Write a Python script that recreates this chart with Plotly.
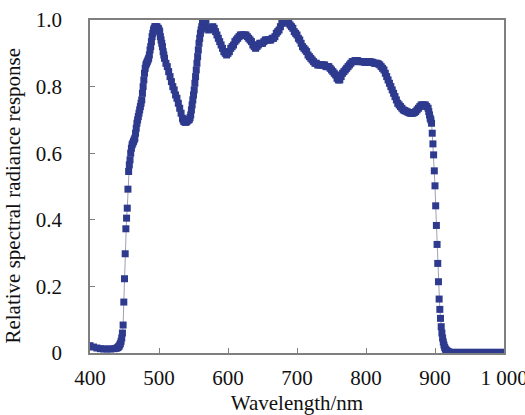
import plotly.graph_objects as go

# Relative spectral radiance response of the sensor, sampled densely on the band edges
wavelength_nm = [
    400, 405, 410, 415, 420, 425, 430, 435, 438, 440,
    441, 442, 443, 444, 445, 446, 447, 448, 449, 450,
    451, 452, 453, 454, 455, 456, 457, 458, 459, 460,
    461, 462, 463, 464, 465, 466, 467, 468, 469, 470,
    471, 472, 473, 474, 475, 476, 477, 478, 479, 480,
    481, 482, 483, 484, 485, 486, 487, 488, 489, 490,
    491, 492, 493, 494, 495, 496, 497, 498, 499, 500,
    501, 502, 503, 504, 505, 506, 507, 508,
    510, 512, 514, 516, 518, 520, 522, 524, 526, 528, 530, 532, 534,
    535, 536, 537, 538, 539, 540, 541, 542, 543, 544,
    545, 546, 547, 548, 549, 550, 551, 552, 553, 554,
    555, 556, 557, 558, 559, 560, 561, 562, 563, 564, 565, 566,
    568, 570, 572, 574, 576, 578, 580, 582, 584, 586,
    588, 590, 592, 594, 596, 598, 600, 602, 604, 606,
    608, 610, 612, 614, 616, 618, 620, 622, 624, 626,
    628, 630, 632, 634, 636, 638, 640, 642, 644, 646,
    648, 650, 652, 654, 656, 658, 660, 662, 664, 666,
    668, 670, 672, 674, 676, 678, 680, 682, 684, 686,
    688, 690, 692, 694, 696, 698, 700, 702, 704, 706,
    708, 710, 712, 714, 716, 718, 720, 722, 724, 726,
    728, 730, 732, 734, 736, 738, 740, 742, 744, 746,
    748, 750, 752, 754, 756, 758, 760, 762, 764, 766,
    768, 770, 772, 774, 776, 778, 780, 782, 784, 786,
    788, 790, 792, 794, 796, 798, 800, 802, 804, 806,
    808, 810, 812, 814, 816, 818, 820, 822, 824, 826,
    828, 830, 832, 834, 836, 838, 840, 842, 844, 846,
    848, 850, 852, 854, 856, 858, 860, 862, 864, 866,
    868, 870, 872, 874, 876, 878, 880, 882, 884, 886,
    888, 890, 891, 892, 893, 894, 895, 896, 897, 898,
    899, 900, 901, 902, 903, 904, 905, 906, 907, 908,
    909, 910, 911, 912, 913, 914, 915, 916, 917, 918,
    919, 920, 925, 930, 935, 940, 945, 950, 955, 960,
    965, 970, 975, 980, 985, 990, 995, 1000,
]

response = [
    0.022, 0.018, 0.015, 0.013, 0.012, 0.012, 0.012, 0.013, 0.014, 0.016,
    0.018, 0.020, 0.024, 0.028, 0.035, 0.045, 0.060, 0.084, 0.153, 0.223,
    0.298, 0.373, 0.405, 0.435, 0.492, 0.545, 0.565, 0.580, 0.600, 0.615,
    0.625, 0.630, 0.635, 0.640, 0.645, 0.660, 0.675, 0.690, 0.700, 0.710,
    0.720, 0.730, 0.740, 0.750, 0.760, 0.780, 0.800, 0.820, 0.840, 0.855,
    0.865, 0.870, 0.875, 0.880, 0.885, 0.895, 0.910, 0.920, 0.935, 0.950,
    0.960, 0.970, 0.975, 0.980, 0.980, 0.975, 0.980, 0.975, 0.975, 0.970,
    0.965, 0.950, 0.940, 0.930, 0.920, 0.905, 0.895, 0.885,
    0.870, 0.860, 0.845, 0.830, 0.815, 0.800, 0.790, 0.775, 0.765, 0.750, 0.735, 0.720, 0.705,
    0.700, 0.695, 0.695, 0.693, 0.693, 0.695, 0.697, 0.700, 0.700, 0.702,
    0.707, 0.715, 0.730, 0.745, 0.760, 0.775, 0.790, 0.810, 0.830, 0.850,
    0.870, 0.890, 0.910, 0.930, 0.945, 0.960, 0.970, 0.980, 0.990, 0.995, 0.998, 0.998,
    0.990, 0.975, 0.970, 0.975, 0.975, 0.980, 0.975, 0.965, 0.955, 0.945,
    0.935, 0.925, 0.915, 0.905, 0.900, 0.895, 0.900, 0.905, 0.915, 0.920,
    0.925, 0.935, 0.940, 0.945, 0.950, 0.955, 0.955, 0.955, 0.955, 0.955,
    0.950, 0.945, 0.940, 0.935, 0.925, 0.920, 0.915, 0.920, 0.925, 0.930,
    0.930, 0.930, 0.935, 0.940, 0.940, 0.940, 0.940, 0.940, 0.945, 0.945,
    0.950, 0.960, 0.965, 0.970, 0.980, 0.990, 0.995, 0.998, 0.998, 0.995,
    0.990, 0.985, 0.980, 0.975, 0.965, 0.960, 0.955, 0.945, 0.940, 0.930,
    0.920, 0.915, 0.910, 0.905, 0.895, 0.890, 0.885, 0.880, 0.875, 0.870,
    0.870, 0.865, 0.865, 0.865, 0.865, 0.865, 0.865, 0.860, 0.860, 0.860,
    0.855, 0.850, 0.845, 0.840, 0.835, 0.825, 0.820, 0.820, 0.830, 0.840,
    0.845, 0.850, 0.855, 0.860, 0.865, 0.870, 0.875, 0.875, 0.878, 0.878,
    0.878, 0.875, 0.875, 0.875, 0.875, 0.873, 0.873, 0.873, 0.875, 0.875,
    0.873, 0.873, 0.870, 0.870, 0.870, 0.868, 0.865, 0.860, 0.855, 0.850,
    0.840, 0.830, 0.820, 0.810, 0.800, 0.790, 0.780, 0.770, 0.760, 0.750,
    0.745, 0.740, 0.735, 0.730, 0.728, 0.726, 0.724, 0.722, 0.720, 0.720,
    0.720, 0.722, 0.725, 0.730, 0.735, 0.740, 0.745, 0.745, 0.745, 0.745,
    0.740, 0.735, 0.725, 0.715, 0.705, 0.700, 0.690, 0.660, 0.628, 0.595,
    0.547, 0.502, 0.442, 0.383, 0.326, 0.269, 0.214, 0.162, 0.131, 0.104,
    0.079, 0.060, 0.045, 0.033, 0.024, 0.017, 0.012, 0.009, 0.007, 0.005,
    0.004, 0.003, 0.002, 0.002, 0.002, 0.002, 0.002, 0.002, 0.002, 0.002,
    0.002, 0.002, 0.002, 0.002, 0.002, 0.002, 0.002, 0.002,
]

x_tick_vals = [400, 500, 600, 700, 800, 900, 1000]
x_tick_text = ["400", "500", "600", "700", "800", "900", "1 000"]
y_tick_vals = [0, 0.2, 0.4, 0.6, 0.8, 1.0]
y_tick_text = ["0", "0.2", "0.4", "0.6", "0.8", "1.0"]

MARK = "#2e3a8e"
AXIS = "#7f7f7f"
FONT = "Liberation Serif, Times New Roman, serif"
TEXT_SIZE = 21

fig = go.Figure(
    go.Scatter(
        x=wavelength_nm,
        y=response,
        mode="lines+markers",
        line=dict(color="#a0a0b4", width=1),
        marker=dict(symbol="square", size=7, color=MARK, line=dict(width=0)),
        showlegend=False,
    )
)

axis_common = dict(
    showline=True,
    linecolor=AXIS,
    linewidth=1.5,
    mirror=True,
    ticks="inside",
    ticklen=5,
    tickwidth=1,
    tickcolor=AXIS,
    showgrid=False,
    zeroline=False,
    automargin=False,
    ticklabeloverflow="allow",
    tickfont=dict(family=FONT, size=TEXT_SIZE, color="#111111"),
)

fig.update_layout(
    width=525,
    height=415,
    margin=dict(l=90, r=21, t=20, b=62),
    paper_bgcolor="white",
    plot_bgcolor="white",
    font=dict(family=FONT, color="#111111"),
    xaxis=dict(
        range=[400, 1000],
        tickvals=x_tick_vals,
        ticktext=x_tick_text,
        ticklabelstandoff=5,
        title=dict(text="Wavelength/nm", font=dict(family=FONT, size=TEXT_SIZE), standoff=17),
        **axis_common,
    ),
    yaxis=dict(
        range=[0, 1.0],
        tickvals=y_tick_vals,
        ticktext=y_tick_text,
        ticklabelstandoff=22,
        **axis_common,
    ),
    annotations=[
        dict(
            text="Relative spectral radiance response",
            xref="paper",
            yref="paper",
            x=-0.185,
            y=0.474,
            xanchor="center",
            yanchor="middle",
            textangle=-90,
            showarrow=False,
            font=dict(family=FONT, size=TEXT_SIZE, color="#111111"),
        )
    ],
)

fig.write_html("out.html")
